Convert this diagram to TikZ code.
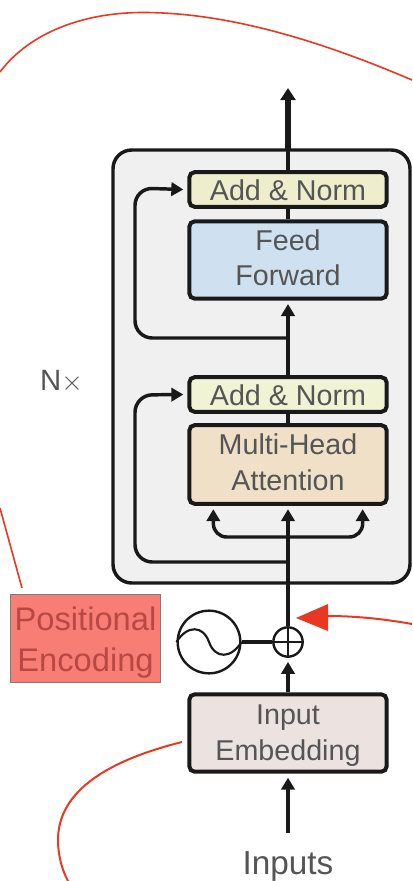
\documentclass[tikz,border=0pt]{standalone}
\usepackage{fontspec}
\setmainfont{Liberation Sans}
\usetikzlibrary{arrows.meta}
\definecolor{txt}{RGB}{85,85,85}
\definecolor{ink}{RGB}{25,25,25}
\definecolor{redl}{RGB}{232,56,36}
\newcommand{\lift}[2]{\raisebox{#1}[0.7em][0.2em]{#2}}
\tikzset{
 x=0.75pt,y=-0.75pt,
 blockbox/.style={draw=ink,line width=3pt,rounded corners=4pt,inner sep=0pt,align=center,text=txt,font=\fontsize{21.5}{25.5}\selectfont,minimum width=148pt},
 wire/.style={draw=ink,line width=2.6pt},
 arr/.style={wire,-{Triangle[length=9pt,width=10pt]}},
 redline/.style={draw=redl,line width=1.2pt},
}
\begin{document}
\begin{tikzpicture}
\useasboundingbox (0,0) rectangle (412,881);
\fill[white] (0,0) rectangle (412,881);
% outer block
\draw[draw=ink,line width=2.6pt,fill=black!6,rounded corners=14pt] (113,150) rectangle (410,583);
% boxes
\node[blockbox,fill={rgb,255:red,238;green,238;blue,205},minimum height=26pt] (an2) at (288,189.5) {\lift{-2.7pt}{Add \& Norm}};
\node[blockbox,fill={rgb,255:red,207;green,225;blue,240},minimum height=58pt] (ff) at (288,260) {\lift{0pt}{Feed}\\\lift{-0.8pt}{Forward}};
\node[blockbox,fill={rgb,255:red,240;green,243;blue,212},minimum height=26pt] (an1) at (288,394.5) {\lift{-2.7pt}{Add \& Norm}};
\node[blockbox,fill={rgb,255:red,241;green,224;blue,200},minimum height=59pt] (mha) at (288,464.5) {\lift{0.3pt}{Multi-Head}\\\lift{-1.2pt}{Attention}};
\node[blockbox,fill={rgb,255:red,236;green,226;blue,224},minimum height=58pt] (ie) at (288,733) {\lift{-0.9pt}{Input}\\\lift{-2.4pt}{Embedding}};
% labels
\node[text=txt,font=\fontsize{22}{25}\selectfont,inner sep=0pt] (nx) at (61.5,382) {N$\times$};
\node[text=txt,font=\fontsize{25}{30}\selectfont,inner sep=0pt] (inp) at (288,866.5) {Inputs};
\node[draw={rgb,255:red,125;green,125;blue,120},line width=0.8pt,fill={rgb,255:red,248;green,125;blue,116},text={rgb,255:red,185;green,72;blue,68},minimum width=113pt,minimum height=66pt,inner sep=0pt,align=center,font=\fontsize{24.5}{31}\selectfont] (pe) at (85.5,638.5) {\lift{-3.5pt}{Positional}\\\lift{-3.3pt}{Encoding}};
% plus and sine
\node[circle,draw=ink,line width=1.8pt,minimum size=22pt,inner sep=0pt] (plus) at (288,642) {};
\draw[ink,line width=1.3pt] (plus.north) -- (plus.south) (plus.west) -- (plus.east);
\node[circle,draw=ink,line width=1.8pt,minimum size=47pt,inner sep=0pt] (sine) at (209,642) {};
\draw[ink,line width=1.6pt] (sine.west) .. controls (187,625) and (203,625) .. (209,642) .. controls (215,659) and (231,659) .. (sine.east);
% connectors
\coordinate (in1) at (288,833);
\coordinate (j1) at (288,562);
\coordinate (j2) at (288,537);
\coordinate (j3) at (288,338);
\coordinate (topout) at (288,88);
\draw[arr] (in1) -- ([yshift=-3pt]ie.south);
\draw[arr] (ie.north) -- ([yshift=-3pt]plus.south);
\draw[wire] (sine.east) -- (plus.west);
\draw[wire] (plus.north) -- (j1);
\draw[arr] (j1) -- ([yshift=-2.5pt]mha.south);
\draw[arr,rounded corners=10pt] (j2) -| ([xshift=-56pt,yshift=-2.5pt]mha.south);
\draw[arr,rounded corners=10pt] (j2) -| ([xshift=56pt,yshift=-2.5pt]mha.south);
\draw[arr,rounded corners=13pt] (j1) -| (135,395) -- ([xshift=-3pt]an1.west);
\draw[wire] (mha.north) -- (an1.south);
\draw[wire] (an1.north) -- (j3);
\draw[arr] (j3) -- ([yshift=-2.5pt]ff.south);
\draw[arr,rounded corners=13pt] (j3) -| (135,188) -- ([xshift=-3pt]an2.west);
\draw[wire] (ff.north) -- (an2.south);
\draw[wire] (an2.north) -- (288,150);
\draw[wire,line width=4pt,-{Triangle[length=9pt,width=11pt]}] (288,150) -- (topout);
% red annotations
\coordinate (r1) at (0,72);
\coordinate (r2) at (412,80);
\coordinate (r3) at (0,508);
\coordinate (r4) at (22,588);
\coordinate (r5) at (182,742);
\coordinate (r6) at (68,881);
\coordinate (r7) at (412,624);
\coordinate (r8) at (328,616);
\draw[redline] (r1) .. controls (30,32) and (85,12) .. (145,12.5) .. controls (235,13) and (330,45) .. (r2);
\draw[redline] (r3) -- (r4);
\draw[redline,line width=1.5pt] (r5) .. controls (110,760) and (58,790) .. (58,840) .. controls (58,855) and (62,870) .. (r6);
\draw[redline,line width=1.5pt] (r7) .. controls (385,619) and (355,616) .. (r8);
\fill[redl] (296,618) -- (328,604) -- (328,631) -- cycle;
\end{tikzpicture}
\end{document}
